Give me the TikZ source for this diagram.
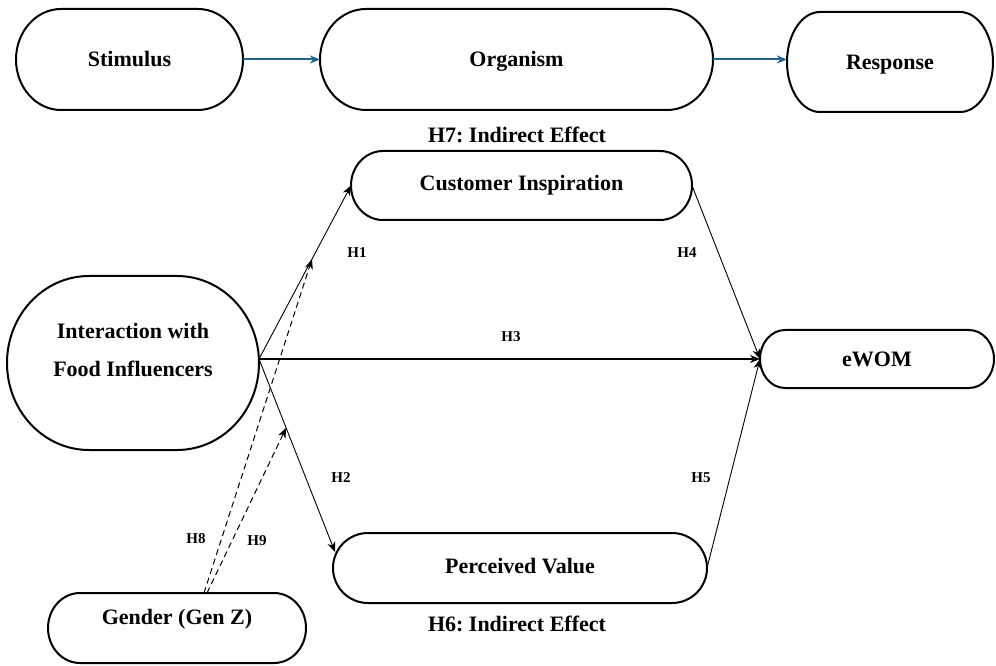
\documentclass[tikz,border=0pt]{standalone}
\usepackage{fontspec}
\setmainfont{Liberation Serif}
\frenchspacing
\usetikzlibrary{arrows.meta,calc}
\definecolor{flowblue}{RGB}{36,100,138}
\tikzset{
  boxline/.style={line width=2pt, black},
  shapebox/.style={draw=none, inner sep=0pt, outer sep=0pt, align=center,
    text height=15pt, text depth=0pt,
    font=\fontsize{22}{38}\selectfont\bfseries},
  hlabel/.style={inner sep=0pt, font=\fontsize{15}{18}\selectfont\bfseries},
  biglabel/.style={inner sep=0pt, font=\fontsize{22}{26}\selectfont\bfseries},
  tip/.style={-{Stealth[length=10pt,width=8pt,inset=3pt]}},
  flow/.style={tip, line width=2pt, flowblue},
  path1/.style={tip, line width=0.9pt, black},
  dpath/.style={tip, line width=1pt, black, dash pattern=on 6pt off 4pt},
}
\newcommand{\outlinebox}[3]{%
  \draw[boxline] ($(#1.north west)+(#2pt,0)$) -- ($(#1.north east)+(-#2pt,0)$)
    arc[start angle=90,end angle=0,x radius=#2pt,y radius=#3pt]
    -- ($(#1.south east)+(0,#3pt)$)
    arc[start angle=0,end angle=-90,x radius=#2pt,y radius=#3pt]
    -- ($(#1.south west)+(#2pt,0)$)
    arc[start angle=270,end angle=180,x radius=#2pt,y radius=#3pt]
    -- ($(#1.north west)+(0,-#3pt)$)
    arc[start angle=180,end angle=90,x radius=#2pt,y radius=#3pt]
    -- cycle;}
\begin{document}
\begin{tikzpicture}[x=1pt,y=1pt]
\useasboundingbox (0,0) rectangle (996,665);
% nodes
\node[shapebox, minimum width=227pt, minimum height=101pt] (stim) at (129.5,605.5) {Stimulus};
\node[shapebox, minimum width=393pt, minimum height=101pt] (org) at (516.5,605.5) {Organism};
\node[shapebox, minimum width=206pt, minimum height=100pt] (resp) at (890,603) {Response};
\node[shapebox, minimum width=341pt, minimum height=69pt, text depth=5pt] (ci) at (521.5,479.5) {Customer Inspiration};
\node[shapebox, minimum width=252pt, minimum height=174pt, text height=53pt, text depth=26pt] (inter) at (133,302) {Interaction with\\Food Influencers};
\node[shapebox, minimum width=234pt, minimum height=58pt] (ewom) at (877,306) {eWOM};
\node[shapebox, minimum width=374pt, minimum height=70pt, text depth=5pt] (pv) at (520,97) {Perceived Value};
\node[shapebox, minimum width=258pt, minimum height=70pt, text depth=22pt] (gen) at (177,37) {Gender (Gen Z)};
% outlines
\outlinebox{stim}{45}{50.5}
\outlinebox{org}{46}{50.5}
\outlinebox{resp}{33}{50}
\outlinebox{ci}{32}{34.5}
\outlinebox{inter}{82}{87}
\outlinebox{ewom}{25}{29}
\outlinebox{pv}{35}{35}
\outlinebox{gen}{32}{35}
% text labels
\node[biglabel] (h7) at (517,530) {H7: Indirect Effect};
\node[biglabel] (h6) at (517,41) {H6: Indirect Effect};
\node[hlabel] (lh1) at (357,412) {H1};
\node[hlabel] (lh4) at (687,412) {H4};
\node[hlabel] (lh3) at (511,328) {H3};
\node[hlabel] (lh2) at (341,187) {H2};
\node[hlabel] (lh5) at (701,187) {H5};
\node[hlabel] (lh8) at (196,126) {H8};
\node[hlabel] (lh9) at (257,124) {H9};
% connectors
\draw[flow] (stim.east) -- (org.west);
\draw[flow] (org.east) -- (org.east -| resp.west);
\coordinate (src) at ($(inter.east)+(0,4)$);
\coordinate (pvin) at ($(pv.west)+(2,16)$);
\draw[path1] (src) -- (ci.west);
\draw[tip, line width=1.4pt] (src) -- (ewom.west);
\draw[path1] (src) -- (pvin);
\draw[path1] (ci.east) -- (ewom.west);
\draw[path1] (pv.east) -- (ewom.west);
\coordinate (m1) at ($(src)!0.576!(ci.west)$);
\coordinate (m2) at ($(src)!0.357!(pvin)$);
\coordinate (g1) at ($(gen.north)+(27,0)$);
\coordinate (g2) at ($(gen.north)+(30,0)$);
\draw[dpath] (g1) -- (m1);
\draw[dpath] (g2) -- (m2);
\end{tikzpicture}
\end{document}
